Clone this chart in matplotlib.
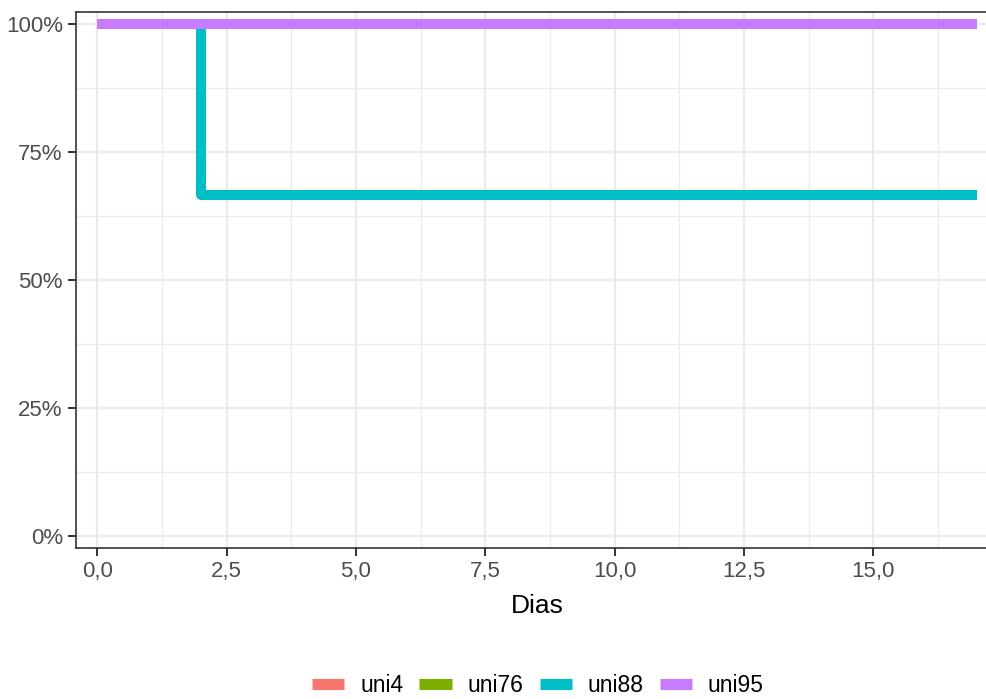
import matplotlib
matplotlib.use("Agg")
import matplotlib.pyplot as plt
from matplotlib.lines import Line2D
from matplotlib.ticker import FuncFormatter, MultipleLocator

plt.rcParams["font.family"] = ["Liberation Sans", "DejaVu Sans"]

# Kaplan-Meier step curves per unit (time in days, survival probability)
groups = ["uni4", "uni76", "uni88", "uni95"]
colors = ["#F8766D", "#7CAE00", "#00BFC4", "#C77CFF"]
times = {
    "uni4": [0, 17],
    "uni76": [0, 17],
    "uni88": [0, 2, 17],
    "uni95": [0, 17],
}
surv = {
    "uni4": [1.0, 1.0],
    "uni76": [1.0, 1.0],
    "uni88": [1.0, 2 / 3, 2 / 3],
    "uni95": [1.0, 1.0],
}
x_ticks = [0, 2.5, 5, 7.5, 10, 12.5, 15]
y_ticks = [0, 0.25, 0.5, 0.75, 1.0]

W, H = 987, 699
fig = plt.figure(figsize=(W / 100, H / 100), dpi=100)
left_px, right_px, top_px, bottom_px = 76, 998, 12.3, 548.3
ax = fig.add_axes([left_px / W, 1 - bottom_px / H,
                   (right_px - left_px) / W, (bottom_px - top_px) / H])

for g, c in zip(groups, colors):
    ax.step(times[g], surv[g], where="post", color=c, lw=7.2,
            solid_joinstyle="round", solid_capstyle="butt", zorder=3)

ax.set_xlim(-0.41, 17.41)
ax.set_ylim(-0.0235, 1.0235)
ax.set_xticks(x_ticks)
ax.set_yticks(y_ticks)
ax.set_xticks([1.25, 3.75, 6.25, 8.75, 11.25, 13.75, 16.25], minor=True)
ax.yaxis.set_minor_locator(MultipleLocator(0.125))
ax.xaxis.set_major_formatter(FuncFormatter(lambda v, p: f"{v:.1f}".replace(".", ",")))
ax.yaxis.set_major_formatter(FuncFormatter(lambda v, p: f"{v * 100:.0f}%"))

ax.grid(which="major", color="#EBEBEB", lw=1.6, zorder=0)
ax.grid(which="minor", color="#EBEBEB", lw=1.0, zorder=0)
ax.set_axisbelow(True)

for s in ax.spines.values():
    s.set_color("#333333")
    s.set_linewidth(1.2)
ax.spines["right"].set_visible(False)

ax.tick_params(which="major", length=5.5, width=1.4, color="#333333",
               labelcolor="#4D4D4D", labelsize=16, pad=4)
ax.tick_params(which="minor", length=0)

ax.set_xlabel("Dias", fontsize=19, color="black", labelpad=8)

handles = [Line2D([0], [0], color=c, lw=8, solid_capstyle="butt") for c in colors]
fig.legend(handles, groups, loc="center", bbox_to_anchor=(538 / W, 1 - 686 / H),
           ncol=4, frameon=False, fontsize=16.5, handlelength=1.4,
           handletextpad=0.7, columnspacing=0.7)

fig.savefig("out.png", dpi=100)
